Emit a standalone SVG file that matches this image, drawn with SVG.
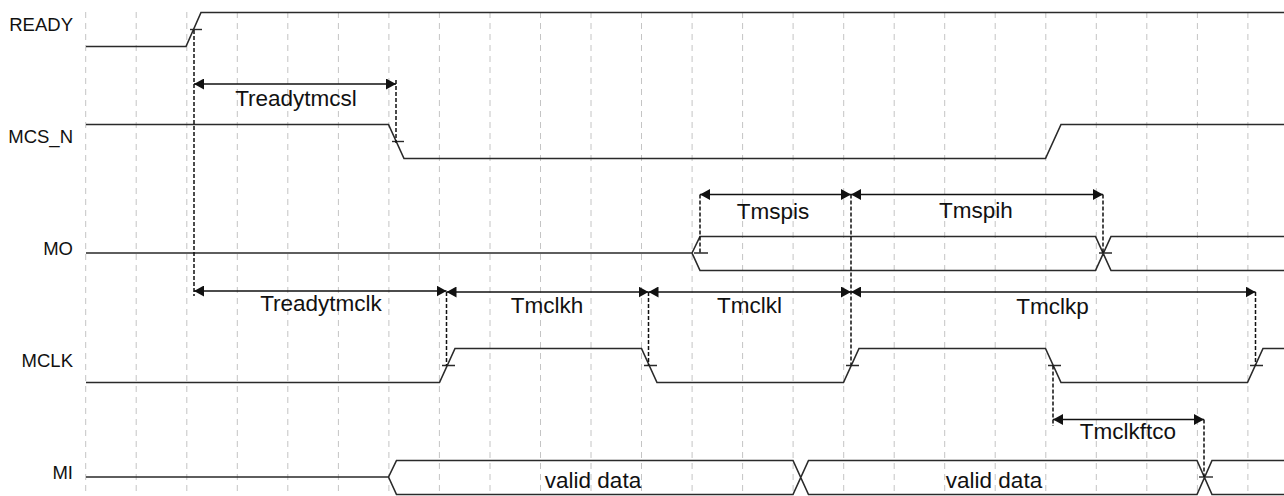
<svg xmlns="http://www.w3.org/2000/svg" width="1284" height="496" viewBox="0 0 1284 496">
<defs>
<marker id="ah" viewBox="0 0 10 11" refX="10" refY="5.5" markerWidth="10" markerHeight="11" markerUnits="userSpaceOnUse" orient="auto-start-reverse">
<path d="M0,0 L10,5.5 L0,11 z" fill="#111"/>
</marker>
<style>
.grid{stroke:#c4c4c4;stroke-width:1;stroke-dasharray:6 5;fill:none}
.sig{stroke:#2a2a2a;stroke-width:1.6;fill:none;stroke-linejoin:miter}
.tick{stroke:#2a2a2a;stroke-width:1.4;fill:none}
.dash{stroke:#111;stroke-width:1.5;stroke-dasharray:4 2;fill:none}
.arr{stroke:#111;stroke-width:1.5;fill:none;marker-start:url(#ah);marker-end:url(#ah)}
.name{font-family:"Liberation Sans",Arial,sans-serif;font-size:18.5px;fill:#111;text-anchor:end}
.lbl{font-family:"Liberation Sans",Arial,sans-serif;font-size:22.5px;fill:#111;text-anchor:middle}
</style>
</defs>
<rect width="1284" height="496" fill="#fff"/>
<g id="grid">
<path class="grid" d="M85.7,12V496 M136.2,12V496 M186.8,12V496 M237.3,12V496 M287.8,12V496 M338.4,12V496 M388.9,12V496 M439.4,12V496 M490,12V496 M540.5,12V496 M591,12V496 M641.5,12V496 M692.1,12V496 M742.6,12V496 M793.1,12V496 M843.7,12V496 M894.2,12V496 M944.7,12V496 M995.2,12V496 M1045.8,12V496 M1096.3,12V496 M1146.8,12V496 M1197.4,12V496 M1247.9,12V496"/>
</g>
<g id="sig-ready">
<text class="name" x="73" y="31">READY</text>
<path class="sig" d="M86,46.5 H186 L201,12.5 H1284"/>
<path class="tick" d="M190,29.5 H202"/>
</g>
<g id="sig-mcs_n">
<text class="name" x="73" y="143">MCS_N</text>
<path class="sig" d="M86,124.5 H388.5 L404,158.5 H1045.5 L1061,124.5 H1284"/>
<path class="tick" d="M392,141.5 H404"/>
</g>
<g id="sig-mo">
<text class="name" x="73" y="255">MO</text>
<path class="sig" d="M86,253 H692 L700,236.5 H1095.5 L1111,270.5 H1284 M692,253 L700,270.5 H1095.5 L1111,236.5 H1284"/>
<path class="tick" d="M694,253 H708 M1099,253 H1112"/>
</g>
<g id="sig-mclk">
<text class="name" x="73" y="367">MCLK</text>
<path class="sig" d="M86,382.5 H439.5 L455,348.5 H641.5 L657,382.5 H843.5 L859,348.5 H1045.5 L1061,382.5 H1247.5 L1263,348.5 H1284"/>
<path class="tick" d="M442,365.5 H455 M644,365.5 H657 M846,365.5 H859 M1048,365.5 H1061 M1250,365.5 H1263"/>
</g>
<g id="sig-mi">
<text class="name" x="73" y="479">MI</text>
<path class="sig" d="M86,477 H388.5 L396.5,460.5 H793 L808.5,494.5 H1197 L1212,460.5 H1284 M388.5,477 L396.5,494.5 H793 L808.5,460.5 H1197 L1212,494.5 H1284"/>
<path class="tick" d="M1199,477 H1213"/>
<text class="lbl" x="593" y="488">valid data</text>
<text class="lbl" x="994" y="488">valid data</text>
</g>
<g id="connectors">
<path class="dash" d="M194,30 V296 M396,80 V143 M700,194.5 V253 M851,194.5 V365.5 M1103,194.5 V253 M446.5,292 V365.5 M648.5,292 V365.5 M1255.5,292 V365.5 M1053,365.5 V426 M1204,419.5 V477"/>
<line class="arr" x1="194" y1="84" x2="396" y2="84"/>
<line class="arr" x1="700" y1="194.5" x2="851" y2="194.5"/>
<line class="arr" x1="851" y1="194.5" x2="1103" y2="194.5"/>
<line class="arr" x1="194" y1="291" x2="446.5" y2="291"/>
<line class="arr" x1="446.5" y1="292" x2="648.5" y2="292"/>
<line class="arr" x1="648.5" y1="292" x2="851" y2="292"/>
<line class="arr" x1="851" y1="292" x2="1255.5" y2="292"/>
<line class="arr" x1="1053" y1="419.5" x2="1204" y2="419.5"/>
<text class="lbl" x="296" y="106">Treadytmcsl</text>
<text class="lbl" x="773" y="219">Tmspis</text>
<text class="lbl" x="976" y="218">Tmspih</text>
<text class="lbl" x="321" y="311">Treadytmclk</text>
<text class="lbl" x="547" y="313">Tmclkh</text>
<text class="lbl" x="749.5" y="313">Tmclkl</text>
<text class="lbl" x="1052.5" y="314">Tmclkp</text>
<text class="lbl" x="1128" y="439">Tmclkftco</text>
</g>
</svg>
